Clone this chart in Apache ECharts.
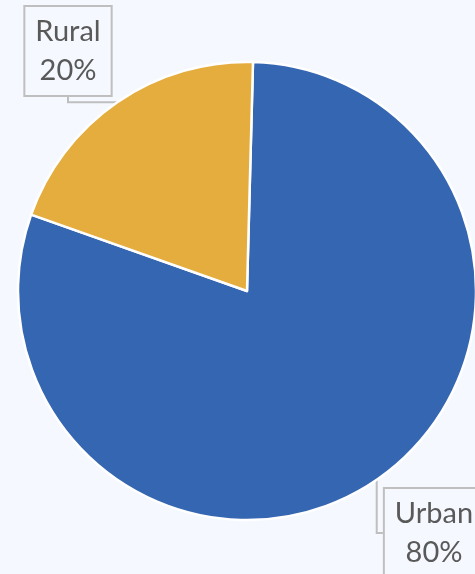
<!DOCTYPE html>
<html><head><meta charset="utf-8">
<script src="https://cdn.jsdelivr.net/npm/echarts@6/dist/echarts.min.js"></script>
<style>html,body{margin:0;padding:0;background:#f5f8fe;}#c{width:475px;height:574px;}</style>
</head><body><div id="c"></div>
<script>
const categories = ['Urban', 'Rural'];
const values = [80, 20];
const colors = ['#3566b1', '#e5ac3e'];
const labelPos = { Urban: [434, 533], Rural: [68, 51] };

const chart = echarts.init(document.getElementById('c'));
chart.setOption({
  backgroundColor: '#f5f8fe',
  animation: false,
  series: [{
    type: 'pie',
    center: [247, 291],
    radius: 229,
    startAngle: 88.5,
    clockwise: true,
    avoidLabelOverlap: false,
    data: categories.map((c, i) => ({ name: c, value: values[i], itemStyle: { color: colors[i] } })),
    itemStyle: { borderColor: '#ffffff', borderWidth: 2.5 },
    label: {
      show: true,
      position: 'outside',
      formatter: '{b}\n{d}%',
      fontFamily: 'Lato',
      fontSize: 29,
      lineHeight: 39,
      color: '#595959',
      align: 'center',
      backgroundColor: '#f5f8fe',
      borderColor: '#bfbfbf',
      borderWidth: 2,
      padding: [4, 10, 6, 10]
    },
    labelLine: {
      show: true,
      length: 8,
      length2: 8,
      lineStyle: { color: '#bfbfbf', width: 2 }
    },
    labelLayout: function (p) {
      const pos = labelPos[categories[p.dataIndex]];
      return { x: pos[0], y: pos[1], align: 'center', verticalAlign: 'middle' };
    }
  }]
});
</script></body></html>
